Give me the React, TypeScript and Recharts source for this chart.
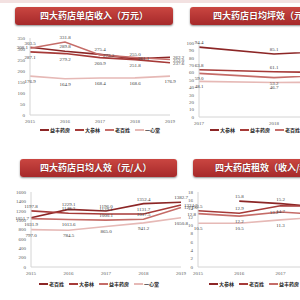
import React from 'react';
import { LineChart, Line, XAxis, YAxis, LabelList } from 'recharts';

// ---------- Panel 1: 单店收入（万元）
const years1 = ['2015', '2016', '2017', '2018', '2019'];
const yifeng1 = [308.1, 289.8, 275.4, 255.0, 262.2];
const dashenlin1 = [287.1, 279.2, 260.9, 251.8, 237.6];
const laobaixing1 = [303.5, 331.8, 273.2, 261.1, 252.0];
const yixintang1 = [176.9, 164.9, 168.4, 168.6, 176.9];
const ticks1 = [0, 50, 100, 150, 200, 250, 300, 350];

// ---------- Panel 2: 日均坪效
const years2 = ['2017', '2018', '2019'];
const dashenlin2 = [94.4, 85.1, 90.2];
const yifeng2 = [63.8, 61.1, 59.6];
const laobaixing2 = [59.0, 53.2, 57.4];
const yixintang2 = [48.1, 46.7, 46.9];
const ticks2 = [0, 10, 20, 30, 40, 50, 60, 70, 80, 90, 100];

// ---------- Panel 3: 日均人效（元/人）
const years3 = ['2015', '2016', '2017', '2018', '2019'];
const laobaixing3 = [1051.7, 1229.1, 1196.0, 1352.4, 1382.7];
const dashenlin3 = [1197.8, 1148.2, 1129.1, 1131.7, 1324.7];
const yifeng3 = [1031.9, 1013.6, 1000.1, 1017.5, 1271.0];
const yixintang3 = [797.0, 784.5, 865.0, 941.2, 1050.8];
const ticks3 = [0, 200, 400, 600, 800, 1000, 1200, 1400, 1600];

// ---------- Panel 4: 租效
const years4 = ['2015', '2016', '2017', '2018', '2019'];
const dashenlin4: (number | null)[] = [null, 15.8, 15.2, 14.4, 14.1];
const laobaixing4 = [13.5, 12.9, 14.7, 14.6, 14.3];
const yifeng4 = [12.8, 12.2, 13.2, 12.6, 12.5];
const yixintang4 = [10.5, 10.5, 11.3, 12.0, 12.2];
const ticks4 = [0, 2, 4, 6, 8, 10, 12, 14, 16, 18];

const C1 = '#8C2626';
const C2 = '#A63A38';
const C3 = '#C56C68';
const C4 = '#E6B9B6';

type P = 'top' | 'bottom' | 'left' | 'right';
type S = { key: string; name: string; values: (number | null)[]; color: string; pos: P[] };

function build(years: string[], series: S[]) {
  return years.map((y, i) => {
    const row: any = { year: y };
    series.forEach((s) => (row[s.key] = s.values[i]));
    return row;
  });
}

const tickStyle = { fontSize: 5, fill: '#595959', fontFamily: 'Liberation Serif' };

const makeLabel = (positions: P[]) => (props: any) => {
  const { value, index } = props;
  if (value == null) return null;
  const vb = props.viewBox || {};
  const x = props.x ?? vb.x;
  const y = props.y ?? vb.y;
  if (x == null || y == null) return null;
  const p = positions[index] || 'top';
  let tx = x, ty = y, anchor: any = 'middle';
  if (p === 'top') ty = y - 3;
  else if (p === 'bottom') ty = y + 7;
  else if (p === 'left') { tx = x - 2; ty = y + 2; anchor = 'end'; }
  else { tx = x + 3; ty = y + 2; anchor = 'start'; }
  return (
    <text x={tx} y={ty} textAnchor={anchor} fontSize={5} fill="#404040" fontFamily="Liberation Serif">
      {Number(value).toFixed(1)}
    </text>
  );
};

function Banner({ left, top, width, text, pad }: { left: number; top: number; width: number; text: string; pad: number }) {
  return (
    <div
      style={{
        position: 'absolute',
        left,
        top,
        width,
        height: 18,
        borderRadius: 3,
        background: 'linear-gradient(#CA4641, #A6292A)',
        boxShadow: '0 1px 2px rgba(0,0,0,0.45)',
        color: '#fff',
        fontFamily: '"Noto Sans CJK SC"',
        fontWeight: 700,
        fontSize: 9,
        lineHeight: '18px',
        paddingLeft: pad,
        boxSizing: 'border-box',
        whiteSpace: 'nowrap',
        overflow: 'hidden',
        textShadow: '0 0 1px rgba(0,0,0,0.5)',
      }}
    >
      {text}
    </div>
  );
}

function Legend({ left, top, series }: { left: number; top: number; series: S[] }) {
  return (
    <div style={{ position: 'absolute', left, top, display: 'flex', alignItems: 'center', whiteSpace: 'nowrap' }}>
      {series.map((s) => (
        <div key={s.key} style={{ display: 'flex', alignItems: 'center', marginRight: 5 }}>
          <div style={{ width: 9, height: 2, background: s.color, marginRight: 1 }} />
          <span style={{ fontFamily: '"Noto Sans CJK SC"', fontSize: 5, fontWeight: 700, color: '#262626', lineHeight: '6px' }}>
            {s.name}
          </span>
        </div>
      ))}
    </div>
  );
}

function Panel({
  left, top, width, height, mTop, mRight, yWidth, ticks, years, series,
}: {
  left: number; top: number; width: number; height: number; mTop: number; mRight: number; yWidth: number;
  ticks: number[]; years: string[]; series: S[];
}) {
  const data = build(years, series);
  return (
    <div style={{ position: 'absolute', left, top }}>
      <LineChart width={width} height={height} data={data} margin={{ top: mTop, right: mRight, bottom: 0, left: 0 }}>
        <XAxis
          dataKey="year"
          height={20}
          tick={tickStyle}
          tickLine={false}
          tickSize={2}
          tickMargin={2}
          axisLine={{ stroke: '#D4D4D4' }}
          interval={0}
        />
        <YAxis
          width={yWidth}
          domain={[ticks[0], ticks[ticks.length - 1]]}
          ticks={ticks}
          tick={tickStyle}
          tickLine={false}
          tickSize={2}
          tickMargin={3}
          axisLine={{ stroke: '#D4D4D4' }}
          interval={0}
        />
        {series.map((s) => (
          <Line
            key={s.key}
            dataKey={s.key}
            stroke={s.color}
            strokeWidth={1.6}
            dot={false}
            isAnimationActive={false}
            connectNulls={false}
          >
            <LabelList dataKey={s.key} content={makeLabel(s.pos)} />
          </Line>
        ))}
      </LineChart>
    </div>
  );
}

const series1: S[] = [
  { key: 'yf', name: '益丰药房', values: yifeng1, color: C1, pos: ['left', 'top', 'top', 'top', 'right'] },
  { key: 'dsl', name: '大参林', values: dashenlin1, color: C2, pos: ['bottom', 'bottom', 'bottom', 'bottom', 'right'] },
  { key: 'lbx', name: '老百姓', values: laobaixing1, color: C3, pos: ['top', 'top', 'right', 'right', 'right'] },
  { key: 'yxt', name: '一心堂', values: yixintang1, color: C4, pos: ['bottom', 'bottom', 'bottom', 'bottom', 'bottom'] },
];
const series2: S[] = [
  { key: 'dsl', name: '大参林', values: dashenlin2, color: C1, pos: ['top', 'top', 'top'] },
  { key: 'yf', name: '益丰药房', values: yifeng2, color: C2, pos: ['top', 'top', 'top'] },
  { key: 'lbx', name: '老百姓', values: laobaixing2, color: C3, pos: ['bottom', 'bottom', 'bottom'] },
  { key: 'yxt', name: '一心堂', values: yixintang2, color: C4, pos: ['bottom', 'bottom', 'bottom'] },
];
const series3: S[] = [
  { key: 'lbx', name: '老百姓', values: laobaixing3, color: C1, pos: ['left', 'top', 'top', 'top', 'top'] },
  { key: 'dsl', name: '大参林', values: dashenlin3, color: C2, pos: ['top', 'top', 'top', 'top', 'right'] },
  { key: 'yf', name: '益丰药房', values: yifeng3, color: C3, pos: ['bottom', 'bottom', 'top', 'top', 'right'] },
  { key: 'yxt', name: '一心堂', values: yixintang3, color: C4, pos: ['bottom', 'bottom', 'bottom', 'bottom', 'bottom'] },
];
const series4: S[] = [
  { key: 'dsl', name: '大参林', values: dashenlin4, color: C1, pos: ['top', 'top', 'top', 'top', 'top'] },
  { key: 'lbx', name: '老百姓', values: laobaixing4, color: C2, pos: ['top', 'top', 'bottom', 'top', 'top'] },
  { key: 'yf', name: '益丰药房', values: yifeng4, color: C3, pos: ['left', 'bottom', 'left', 'bottom', 'bottom'] },
  { key: 'yxt', name: '一心堂', values: yixintang4, color: C4, pos: ['bottom', 'bottom', 'bottom', 'bottom', 'bottom'] },
];

export default function App() {
  return (
    <div style={{ position: 'absolute', left: 0, top: 0, width: 300, height: 300, overflow: 'hidden', background: '#fff' }}>
      <div style={{ position: 'absolute', left: 0, top: 0, width: 300, height: 3, background: '#F3E1E1' }} />
      <Banner left={15} top={7} width={158} text="四大药店单店收入（万元）" pad={25} />
      <Banner left={190} top={7} width={170} text="四大药店日均坪效（元/平米）" pad={23} />
      <Banner left={20} top={159} width={157} text="四大药店日均人效（元/人）" pad={20} />
      <Banner left={193} top={159} width={170} text="四大药店租效（收入/租金）" pad={22} />

      <Panel left={0} top={0} width={190} height={135} mTop={38} mRight={20} yWidth={30} ticks={ticks1} years={years1} series={series1} />
      <Panel left={150} top={0} width={200} height={137} mTop={43} mRight={1} yWidth={49} ticks={ticks2} years={years2} series={series2} />
      <Panel left={0} top={150} width={200} height={137} mTop={42} mRight={19} yWidth={31} ticks={ticks3} years={years3} series={series3} />
      <Panel left={150} top={150} width={215} height={137} mTop={42} mRight={2} yWidth={48} ticks={ticks4} years={years4} series={series4} />

      <Legend left={40} top={127} series={series1} />
      <Legend left={210} top={127} series={series2} />
      <Legend left={39} top={281} series={series3} />
      <Legend left={209} top={281} series={series4} />
    </div>
  );
}
